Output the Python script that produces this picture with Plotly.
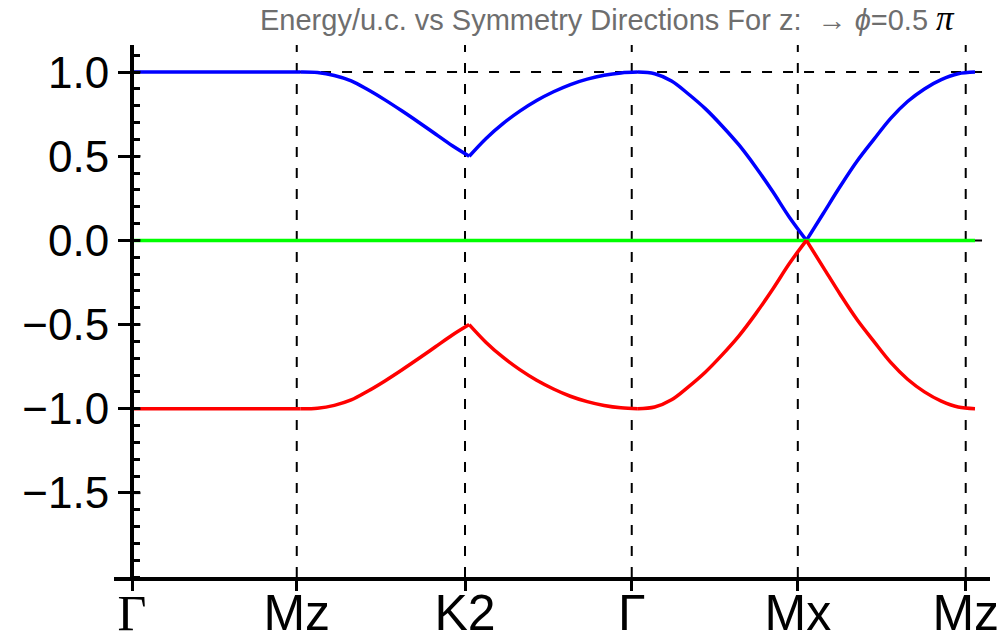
import plotly.graph_objects as go

# ---------------- data ----------------
sym_labels = ["Γ", "Mz", "K2", "Γ", "Mx", "Mz"]
sym_pos = [0.0, 0.977, 1.975, 2.964, 3.949, 4.945]   # dashed symmetry lines / ticks
node_pos = [0.0, 1.0, 2.0, 3.0, 4.0, 5.0]             # path nodes of the band data
t_grid = [0.0, 0.1, 0.2, 0.3, 0.4, 0.5, 0.6, 0.7, 0.8, 0.9, 1.0]

upper_segs = [
    [1.0, 1.0, 1.0, 1.0, 1.0, 1.0, 1.0, 1.0, 1.0, 1.0, 1.0],
    [1.0, 0.997, 0.98, 0.948, 0.895, 0.835, 0.77, 0.702, 0.632, 0.562, 0.5],
    [0.5, 0.606, 0.694, 0.768, 0.831, 0.883, 0.926, 0.958, 0.981, 0.995, 1.0],
    [1.0, 0.99, 0.947, 0.87, 0.783, 0.68, 0.567, 0.435, 0.29, 0.136, 0.0],
    [0.0, 0.16, 0.32, 0.47, 0.6, 0.725, 0.825, 0.9, 0.955, 0.99, 1.0],
]
lower_segs = [
    [-1.0, -1.0, -1.0, -1.0, -1.0, -1.0, -1.0, -1.0, -1.0, -1.0, -1.0],
    [-1.0, -0.997, -0.98, -0.948, -0.895, -0.835, -0.77, -0.702, -0.632, -0.562, -0.5],
    [-0.5, -0.606, -0.694, -0.768, -0.831, -0.883, -0.926, -0.958, -0.981, -0.995, -1.0],
    [-1.0, -0.99, -0.947, -0.87, -0.783, -0.68, -0.567, -0.435, -0.29, -0.136, 0.0],
    [0.0, -0.16, -0.32, -0.47, -0.6, -0.725, -0.825, -0.9, -0.955, -0.99, -1.0],
]
middle_band = [0.0, 0.0]
middle_x = [0.0, 5.0]

y_major = [-1.5, -1.0, -0.5, 0.0, 0.5, 1.0]
h_dashed = [0.0, 1.0]

x_range = [-0.107, 5.089]
y_range = [-2.0, 1.161]

# ---------------- figure ----------------
fig = go.Figure()


def seg_x(i):
    a, b = node_pos[i], node_pos[i + 1]
    return [a + (b - a) * t for t in t_grid]


for i, seg in enumerate(upper_segs):
    fig.add_trace(go.Scatter(x=seg_x(i), y=seg, mode="lines",
                             line=dict(color="#0000ff", width=3.5, shape="spline", smoothing=1.0),
                             showlegend=False, hoverinfo="skip"))
fig.add_trace(go.Scatter(x=middle_x, y=middle_band, mode="lines",
                         line=dict(color="#00ff00", width=3.5),
                         showlegend=False, hoverinfo="skip"))
for i, seg in enumerate(lower_segs):
    fig.add_trace(go.Scatter(x=seg_x(i), y=seg, mode="lines",
                             line=dict(color="#ff0000", width=3.5, shape="spline", smoothing=1.0),
                             showlegend=False, hoverinfo="skip"))

shapes = []
for xp in sym_pos[1:]:
    shapes.append(dict(type="line", xref="x", yref="y", x0=xp, x1=xp, y0=y_range[0], y1=y_range[1],
                       line=dict(color="black", width=2, dash="10px,11px"), layer="below"))
for yp in h_dashed:
    shapes.append(dict(type="line", xref="x", yref="y", x0=0, x1=5.07, y0=yp, y1=yp,
                       line=dict(color="black", width=2, dash="10px,11px"), layer="below"))
# inward parts of major y ticks
for yp in y_major:
    shapes.append(dict(type="line", xref="x", yref="y", x0=0, x1=0.05, y0=yp, y1=yp,
                       line=dict(color="black", width=2.5)))

ticktext = ['<span style="font-family:Liberation Serif">Γ</span>'] + sym_labels[1:]

fig.update_layout(
    width=1006, height=643, autosize=False,
    margin=dict(l=114, r=16, t=45, b=66, pad=0),
    paper_bgcolor="white", plot_bgcolor="white",
    shapes=shapes,
    font=dict(family="Liberation Sans, Arial, sans-serif", color="black"),
    xaxis=dict(range=x_range, showgrid=False, zeroline=False, automargin=False,
               showline=True, linecolor="black", linewidth=4,
               tickmode="array", tickvals=sym_pos, ticktext=ticktext,
               ticks="outside", ticklen=10, tickwidth=2.5, tickcolor="black",
               ticklabelstandoff=-21,
               tickfont=dict(size=50, family="Liberation Sans, Arial, sans-serif", color="black")),
    yaxis=dict(range=y_range, showgrid=False, zeroline=False, automargin=False,
               anchor="free", position=0.107 / 5.196,
               showline=True, linecolor="black", linewidth=4,
               tickmode="array", tickvals=y_major, tickformat=".1f",
               ticks="outside", ticklen=12, tickwidth=2.5, tickcolor="black",
               tickfont=dict(size=44, family="Liberation Sans, Arial, sans-serif", color="black"),
               minor=dict(tickmode="linear", tick0=0, dtick=0.1, ticks="inside",
                          ticklen=6, tickwidth=2.5, tickcolor="black")),
    annotations=[dict(
        xref="paper", yref="paper", x=(957 - 114) / 876, y=1 + (45 - 18) / 532,
        xanchor="right", yanchor="middle", showarrow=False,
        text=('Energy/u.c. vs Symmetry Directions For z:  → <i>ϕ</i>=0.5 '
              '<span style="color:black;font-family:Liberation Serif;font-size:35px"><i>π</i></span>'),
        font=dict(size=29, color="#6e6e6e", family="Liberation Sans, Arial, sans-serif"))],
)

fig.write_html("out.html")
